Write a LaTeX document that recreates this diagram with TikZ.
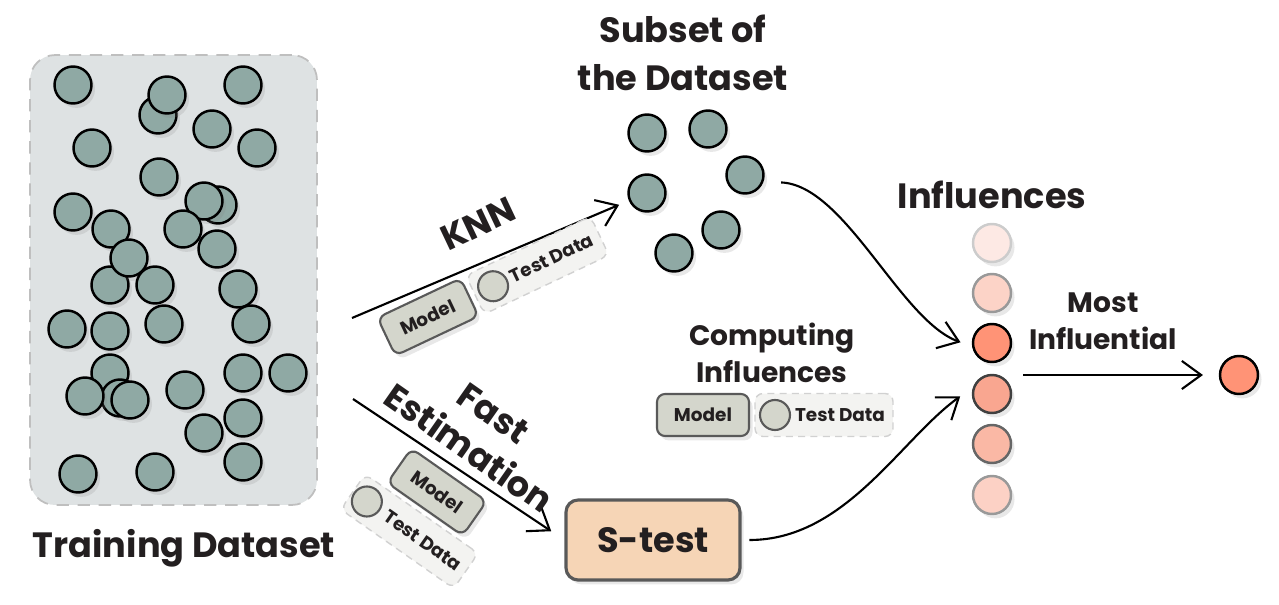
\documentclass[tikz,border=0pt]{standalone}
\usepackage{fontspec}
\setmainfont{Poppins}
\usetikzlibrary{positioning,shadows,arrows.meta}

\definecolor{dotgreen}{HTML}{8FA9A4}
\definecolor{boxgray}{HTML}{DEE2E3}
\definecolor{modelgray}{HTML}{D4D6CC}
\definecolor{testbg}{HTML}{F3F3F1}
\definecolor{stestfill}{HTML}{F6D5B6}
\definecolor{inkdark}{HTML}{231F20}
\definecolor{infc1}{HTML}{FDE9E4}
\definecolor{infc2}{HTML}{FCD3C7}
\definecolor{infc3}{HTML}{FF9376}
\definecolor{infc4}{HTML}{F9A690}
\definecolor{infc5}{HTML}{FAB8A5}
\definecolor{infc6}{HTML}{FCD1C5}

\begin{document}
\begin{tikzpicture}[x=0.02cm, y=-0.02cm,
		softshadow/.style={drop shadow={shadow xshift=2pt, shadow yshift=-2.5pt, opacity=0.18}},
		dot/.style={circle, draw=black, line width=1.4pt, fill=dotgreen, minimum size=0.74cm, inner sep=0pt, softshadow},
		infdot/.style={circle, line width=1.4pt, minimum size=0.76cm, inner sep=0pt, softshadow},
		trainbox/.style={draw=black!25, dash pattern=on 7pt off 5pt, line width=1pt, fill=boxgray, rounded corners=0.5cm, minimum width=5.74cm, minimum height=9cm},
		bigtext/.style={font=\bfseries\fontsize{20}{27}\selectfont, text=inkdark, align=center},
		midtext/.style={font=\bfseries\fontsize{16}{21}\selectfont, text=inkdark, align=center},
		smalltext/.style={font=\bfseries\fontsize{10.5}{13}\selectfont, text=inkdark},
		modelbox/.style={draw=black!65, line width=1.2pt, fill=modelgray, rounded corners=0.16cm, minimum width=1.84cm, minimum height=0.84cm, smalltext, softshadow},
		testbox/.style={draw=black!18, dash pattern=on 4pt off 3pt, line width=0.8pt, fill=testbg, rounded corners=0.16cm, minimum width=2.76cm, minimum height=0.86cm},
		testdot/.style={circle, draw=black!65, line width=1.2pt, fill=modelgray, minimum size=0.6cm, inner sep=0pt},
		stestbox/.style={draw=black!65, line width=1.8pt, fill=stestfill, rounded corners=0.24cm, minimum width=3.48cm, minimum height=1.6cm, bigtext, softshadow},
		flow/.style={line width=1.2pt, -{Straight Barb[length=11pt, width=16pt]}}]
	\useasboundingbox (0,0) rectangle (1279,605);

	\node[trainbox] (train) at (173.5,280) {};
	\foreach \x/\y [count=\i] in {73/85, 158/115, 167/95, 243/85, 212/129, 257/148, 92/148, 159/177, 218/205, 204/201, 73/212, 111/229, 183/229, 217/249, 110/285, 129/258, 155/285, 238/289, 67/329, 110/331, 164/324, 251/324, 110/373, 120/398, 85/396, 130/400, 185/390, 243/373, 288/373, 204/433, 243/418, 243/462, 78/474, 155/472} {
		\node[dot] (d\i) at (\x,\y) {};
	}
	\node[bigtext] (trainlabel) at (184,548) {Training Dataset};

	\node[bigtext] (subtitle) at (683,53) {Subset of\\the Dataset};
	\foreach \x/\y [count=\i] in {647/133, 708/129, 745/175, 647/193, 721/230, 674/253} {
		\node[dot] (sub\i) at (\x,\y) {};
	}

	\coordinate (knnfrom) at (352,318);
	\draw[flow, shorten >=6pt] (knnfrom) -- (sub4);
	\node[bigtext, rotate=25.3] (knnlabel) at (478,224) {KNN};
	\begin{scope}[shift={(428,317)}, rotate=25.3, transform shape]
		\node[modelbox] (kmodel) at (0,0) {Model};
		\node[testbox] (ktest) at (121,0) {};
		\node[testdot] (kdot) at (72,0) {};
		\node[smalltext] (ktext) at (137,0) {Test Data};
	\end{scope}

	\node[stestbox] (stest) at (653,540) {S-test};
	\coordinate (fastfrom) at (353,399);
	\draw[flow, shorten >=9pt] (fastfrom) -- (stest.west);
	\node[bigtext, rotate=-35, font=\bfseries\fontsize{20}{24.5}\selectfont] (fastlabel) at (481,431) {Fast\\Estimation};
	\begin{scope}[shift={(437,492)}, rotate=-35, transform shape]
		\node[modelbox] (fmodel) at (0,0) {Model};
		\node[testbox] (ftest) at (0,48) {};
		\node[testdot] (fdot) at (-52,48) {};
		\node[smalltext] (ftext) at (16,48) {Test Data};
	\end{scope}

	\node[midtext] (complabel) at (772,353) {Computing\\Influences};
	\node[modelbox] (cmodel) at (703,415) {Model};
	\node[testbox] (ctest) at (824,415) {};
	\node[testdot] (cdot) at (775,415) {};
	\node[smalltext] (ctext) at (840,415) {Test Data};

	\node[bigtext] (inflabel) at (992,195) {Influences};
	\foreach \i/\y/\b in {1/243/black!20, 2/293/black!40, 3/343/black, 4/394/black!75, 5/444/black!60, 6/495/black!40} {
		\node[infdot, fill=infc\i, draw=\b] (inf\i) at (992,\y) {};
	}
	\node[infdot, fill=infc3, draw=black] (final) at (1239,375) {};

	\draw[flow, shorten <=10pt, shorten >=7pt] (sub3.-20) .. controls (845,185) and (900,320) .. (inf3.190);
	\draw[flow, shorten <=4.5pt, shorten >=9pt] (stest.east) .. controls (845,540) and (900,440) .. (inf4.160);

	\node[midtext] (mostlabel) at (1103,321) {Most\\Influential};
	\draw[flow, shorten >=9pt] ([xshift=0.22cm]inf3.east |- final) -- (final);
\end{tikzpicture}
\end{document}
